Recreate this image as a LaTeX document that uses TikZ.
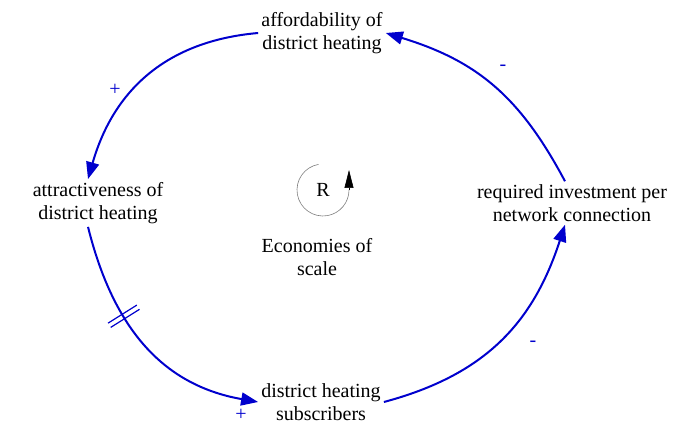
\documentclass[tikz,border=0pt]{standalone}
\usepackage{fontspec}
\setmainfont{Liberation Serif}
\usetikzlibrary{arrows.meta,decorations.markings}
\definecolor{linkblue}{RGB}{0,0,205}
\begin{document}
\begin{tikzpicture}[x=1pt,y=1pt,
    var/.style={align=center,font=\fontsize{20}{23}\selectfont,inner sep=3pt},
    link/.style={draw=linkblue,line width=2pt,-{Triangle[length=17pt,width=13pt]}},
    sign/.style={text=linkblue,font=\fontsize{20}{20}\selectfont},
    delay/.style={postaction={decorate,decoration={markings,
      mark=at position #1 with {\draw[linkblue,line width=1.2pt,-] (-2.5pt,-17pt)--(-2.5pt,17pt) (2.5pt,-17pt)--(2.5pt,17pt);}}}}]
    \useasboundingbox (0,0) rectangle (683,425);
    % variables
    \node[var] (aff) at (322,392) {affordability of\\district heating};
    \node[var] (attr) at (98,222) {attractiveness of\\district heating};
    \node[var] (inv) at (572,222) {required investment per\\network connection};
    \node[var] (sub) at (321,23) {district heating\\subscribers};
    % links
    \draw[link] (aff.west) to[out=185,in=74,looseness=1.05] ([xshift=-10pt]attr.north);
    \draw[link,delay=0.37] ([xshift=-10pt]attr.south) to[out=-76,in=170,looseness=1.05] (sub.west);
    \draw[link] (sub.east) to[out=15,in=-108,looseness=1.05] ([xshift=-7pt]inv.south);
    \draw[link] ([xshift=-7pt]inv.north) to[out=118,in=-17,looseness=1.05] (aff.east);
    % polarities
    \node[sign] (p1) at (115,335) {+};
    \node[sign] (p2) at (241,10) {+};
    \node[sign] (m1) at (533,81) {-};
    \node[sign] (m2) at (503,357) {-};
    % loop
    \node[var] (R) at (323,235) {R};
    \draw[gray,line width=0.6pt] (R.center) ++(100:26) arc[start angle=100,end angle=360,radius=26];
    \draw[black,line width=0.6pt,-{Triangle[length=18pt,width=9pt]}] ([xshift=26pt]R.center) -- ++(0,20);
    \node[var] (eco) at (317,168) {Economies of\\scale};
  \end{tikzpicture}
\end{document}
